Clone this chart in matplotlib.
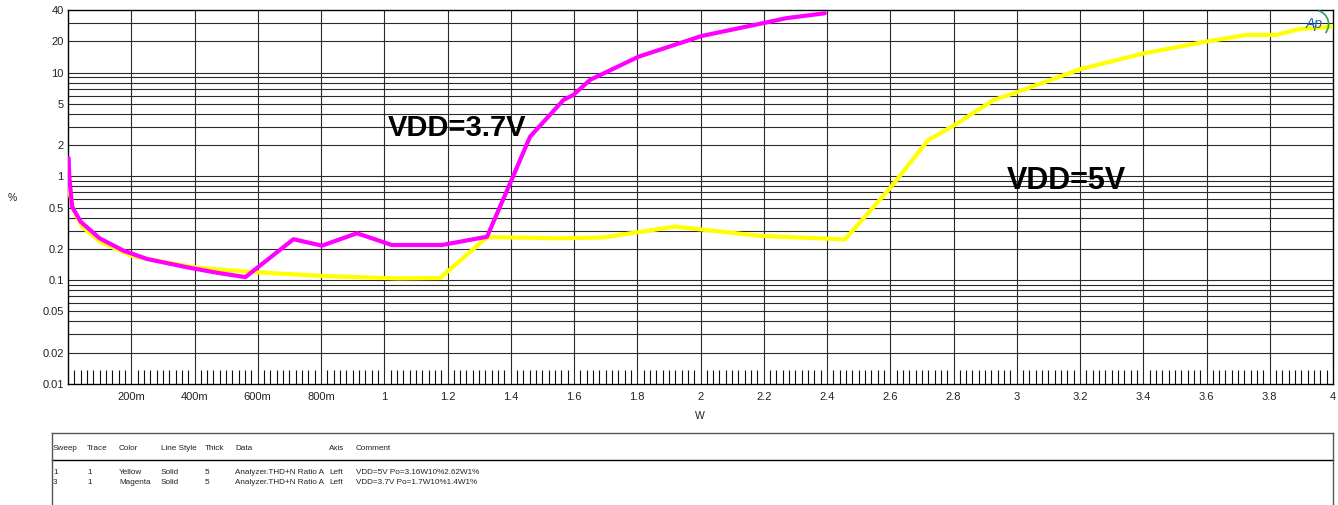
import numpy as np
import matplotlib.pyplot as plt
from matplotlib.lines import Line2D
from matplotlib.patches import Arc

plt.rcParams['font.family'] = ['Liberation Sans', 'DejaVu Sans']

# ----------------------------
# Datos
# ----------------------------
# VDD = 3.7 V (magenta)
mag_w = [0.002, 0.004, 0.013, 0.04, 0.10, 0.176, 0.25, 0.377, 0.47, 0.561,
         0.713, 0.803, 0.914, 1.024, 1.10, 1.182, 1.325, 1.398, 1.461, 1.567,
         1.598, 1.651, 1.804, 2.004, 2.198, 2.272, 2.393]
mag_thd = [1.5, 1.0, 0.51, 0.366, 0.253, 0.192, 0.16, 0.133, 0.118, 0.107,
           0.248, 0.215, 0.283, 0.218, 0.218, 0.218, 0.262, 0.857, 2.41, 5.45,
           6.08, 8.5, 14.2, 22.5, 29.9, 33.4, 37.2]

# VDD = 5 V (amarillo)
yel_w = [0.002, 0.005, 0.018, 0.045, 0.10, 0.203, 0.30, 0.402, 0.50, 0.601,
         0.80, 1.04, 1.177, 1.325, 1.556, 1.693, 1.919, 2.188, 2.457, 2.599,
         2.72, 2.804, 2.925, 2.99, 3.202, 3.402, 3.601, 3.726, 3.82, 3.89, 4.0]
yel_thd = [0.92, 0.7, 0.47, 0.328, 0.235, 0.171, 0.150, 0.133, 0.125, 0.119,
           0.110, 0.104, 0.105, 0.26, 0.253, 0.258, 0.328, 0.267, 0.247, 0.768,
           2.24, 3.13, 5.4, 6.3, 10.8, 15.3, 19.9, 23.0, 23.0, 26.1, 27.7]

# Ejes
x_ticks = [0.2, 0.4, 0.6, 0.8, 1.0, 1.2, 1.4, 1.6, 1.8, 2.0, 2.2, 2.4, 2.6,
           2.8, 3.0, 3.2, 3.4, 3.6, 3.8, 4.0]
x_labels = ["200m", "400m", "600m", "800m", "1", "1.2", "1.4", "1.6", "1.8",
            "2", "2.2", "2.4", "2.6", "2.8", "3", "3.2", "3.4", "3.6", "3.8", "4"]
y_ticks = [0.01, 0.02, 0.05, 0.1, 0.2, 0.5, 1, 2, 5, 10, 20, 40]
y_labels = ["0.01", "0.02", "0.05", "0.1", "0.2", "0.5", "1", "2", "5",
            "10", "20", "40"]
y_grid = [0.02, 0.03, 0.04, 0.05, 0.06, 0.07, 0.08, 0.09,
          0.1, 0.2, 0.3, 0.4, 0.5, 0.6, 0.7, 0.8, 0.9,
          1, 2, 3, 4, 5, 6, 7, 8, 9, 10, 20, 30]

# Tabla de leyenda
tbl_header = ["Sweep", "Trace", "Color", "Line Style", "Thick", "Data", "Axis", "Comment"]
tbl_rows = [
    ["1", "1", "Yellow", "Solid", "5", "Analyzer.THD+N Ratio A", "Left",
     "VDD=5V Po=3.16W10%2.62W1%"],
    ["3", "1", "Magenta", "Solid", "5", "Analyzer.THD+N Ratio A", "Left",
     "VDD=3.7V Po=1.7W10%1.4W1%"],
]
tbl_cols_px = [53, 87, 119, 161, 205, 235, 329, 356]

# ----------------------------
# Figura
# ----------------------------
W, H = 1338, 505
fig = plt.figure(figsize=(W / 100, H / 100), dpi=100)
ax = fig.add_axes([68 / W, 1 - 384 / H, (1333 - 68) / W, (384 - 10) / H])

ax.set_yscale('log')
ax.set_xlim(0, 4)
ax.set_ylim(0.01, 40)

grid_c = '#2a2a2a'
for v in y_grid:
    ax.axhline(v, color=grid_c, lw=0.8, zorder=1)
for v in x_ticks[:-1]:
    ax.axvline(v, color=grid_c, lw=0.8, zorder=1)

ax.set_xticks(x_ticks)
ax.set_xticklabels(x_labels)
ax.set_xticks([round(0.02 * i, 2) for i in range(1, 200) if i % 10], minor=True)
ax.set_yticks(y_ticks)
ax.set_yticklabels(y_labels)
ax.yaxis.set_minor_locator(plt.NullLocator())
ax.tick_params(axis='both', which='major', length=0, labelsize=8, colors='#222222')
ax.tick_params(axis='x', which='major', pad=6)
ax.tick_params(axis='y', which='major', pad=3)
ax.tick_params(axis='x', which='minor', direction='in', length=10, width=0.8,
               color='#111111')
for s in ax.spines.values():
    s.set_color('black')
    s.set_linewidth(1.0)

ax.plot(yel_w, yel_thd, color='#ffff00', lw=3.0, solid_joinstyle='round',
        solid_capstyle='round', zorder=3)
ax.plot(mag_w, mag_thd, color='#ff00ff', lw=3.0, solid_joinstyle='round',
        solid_capstyle='round', zorder=3)

ax.text(1.231, 2.93, "VDD=3.7V", fontsize=21, fontweight='bold',
        ha='center', va='center', zorder=4)
ax.text(3.156, 0.903, "VDD=5V", fontsize=22, fontweight='bold',
        ha='center', va='center', zorder=4)

# logo Ap
ax.text(0.9855, 0.962, "Ap", transform=ax.transAxes, fontsize=10, style='italic',
        color='#1f5fbf', ha='center', va='center', zorder=5)
ax.add_patch(Arc((0.9855, 0.962), 0.022, 0.075, theta1=-70, theta2=85,
                 transform=ax.transAxes, color='#2e9e5e', lw=1.2, zorder=5))

fig.text(700 / W, 1 - 416 / H, "W", fontsize=7.5, ha='center', va='center',
         color='#222222')
fig.text(12 / W, 1 - 198 / H, "%", fontsize=7.5, ha='center', va='center',
         color='#222222')

# ----------------------------
# Tabla
# ----------------------------
box_c = '#555555'
def fline(x0, y0, x1, y1, c=box_c, lw=1.0):
    fig.add_artist(Line2D([x0 / W, x1 / W], [1 - y0 / H, 1 - y1 / H],
                          color=c, lw=lw))

fline(52, 433, 1333, 433)
fline(52, 460, 1333, 460, c='black')
fline(52, 433, 52, 505)
fline(1333, 433, 1333, 505)

for x, t in zip(tbl_cols_px, tbl_header):
    fig.text(x / W, 1 - 448 / H, t, fontsize=5.9, ha='left', va='center',
             color='#222222')
for row, yy in zip(tbl_rows, [472, 482]):
    for x, t in zip(tbl_cols_px, row):
        fig.text(x / W, 1 - yy / H, t, fontsize=5.9, ha='left', va='center',
                 color='#222222')

fig.savefig("out.png", dpi=100)
